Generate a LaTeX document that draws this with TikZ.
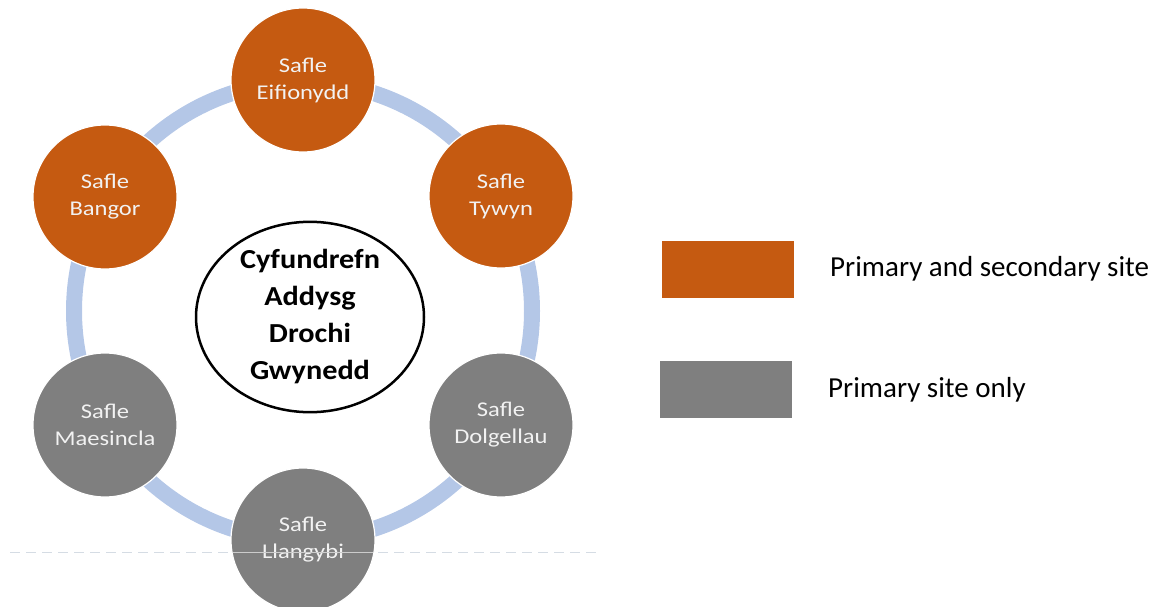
\documentclass[tikz,border=0pt]{standalone}
\usepackage{fontspec}
\setmainfont{Carlito}
\newfontfamily\sitefont[FakeStretch=1.17]{Carlito}
\newfontfamily\hubfont[FakeStretch=1.1]{Carlito}
\usetikzlibrary{shapes.geometric}
\definecolor{siteorange}{HTML}{C55A11}
\definecolor{sitegrey}{HTML}{7F7F7F}
\definecolor{ringblue}{HTML}{B4C7E7}
\definecolor{dashgrey}{HTML}{D5DCE4}
\definecolor{sitetext}{HTML}{F2F2F2}
\tikzset{
  site/.style={circle, minimum size=144pt, inner sep=0pt, draw=white, line width=1.2pt,
    text=sitetext, align=center, font=\sitefont\fontsize{21}{27}\selectfont},
  primsec/.style={site, fill=siteorange},
  primonly/.style={site, fill=sitegrey},
  hub/.style={ellipse, draw=black, line width=2.5pt, fill=white, minimum width=228pt, minimum height=190pt,
    inner sep=0pt, align=center, font=\hubfont\fontsize{27.5}{37}\selectfont\bfseries},
  legendbox/.style={minimum width=132pt, minimum height=57pt, inner sep=0pt},
  legendtext/.style={anchor=base west, inner sep=0pt, font=\fontsize{29}{32}\selectfont},
  ring/.style={draw=ringblue, line width=16pt},
}
\begin{document}
\begin{tikzpicture}[x=1pt,y=-1pt]
\useasboundingbox (0,0) rectangle (1167,607);
\coordinate (ringc) at (303,311);
\draw[ring] (ringc) circle[radius=229];
\draw[dashgrey, line width=1pt, dash pattern=on 10pt off 6pt] (10,552) -- (600,552);
\node[primsec] (eif) at (303,80) {Safle\\Eifionydd};
\node[primsec] (tyw) at (501,196) {Safle\\Tywyn};
\node[primonly] (dol) at (501,425) {Safle\\Dolgellau};
\node[primonly] (lla) at (303,540) {Safle\\Llangybi};
\node[primonly] (mae) at (105,425) {Safle\\Maesincla};
\node[primsec] (ban) at (105,197) {Safle\\Bangor};
\begin{scope}
  \clip (lla.center) circle[radius=71];
  \draw[white!60!sitegrey, line width=0.8pt] (200,552) -- (400,552);
\end{scope}
\node[hub] (hubn) at (310,317) {Cyfundrefn\\Addysg\\Drochi\\Gwynedd};
\node[legendbox, fill=siteorange] (lg1) at (727.5,269.5) {};
\node[legendbox, fill=sitegrey] (lg2) at (726,389.5) {};
\node[legendtext] (lt1) at (830,276) {Primary and secondary site};
\node[legendtext] (lt2) at (828,397) {Primary site only};
\end{tikzpicture}
\end{document}
